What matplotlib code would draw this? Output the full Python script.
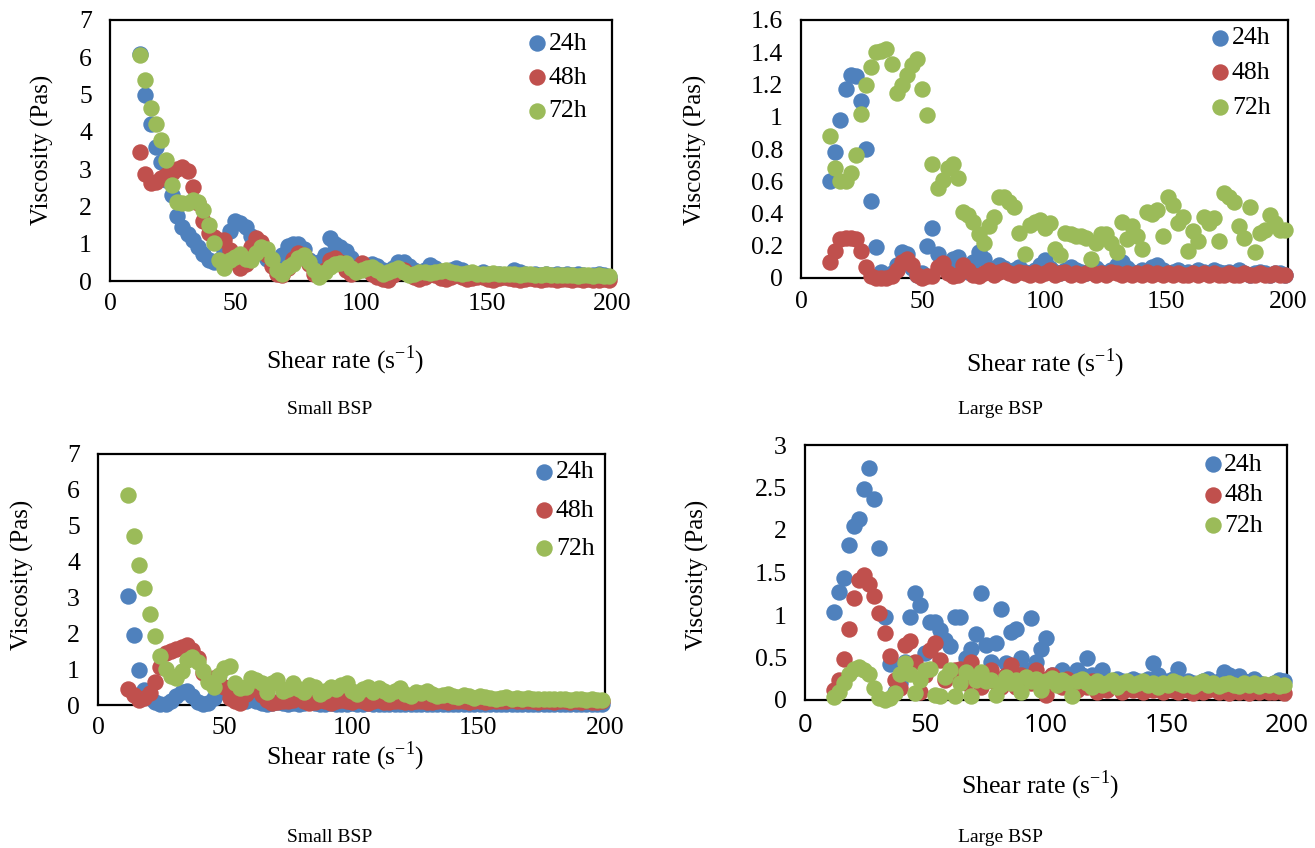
import matplotlib.pyplot as plt
from matplotlib.ticker import MultipleLocator, FormatStrFormatter

plt.rcParams['font.family'] = 'Liberation Serif'
plt.rcParams['mathtext.fontset'] = 'custom'
plt.rcParams['mathtext.rm'] = 'Liberation Serif'

# shear rate grid (s-1), shared by all samples
shear_rate = [12.0, 14.1, 16.2, 18.3, 20.4, 22.5, 24.6, 26.7, 28.8, 30.9,
              33.0, 35.1, 37.2, 39.3, 41.4, 43.5, 45.6, 47.7, 49.8, 51.9,
              54.0, 56.1, 58.2, 60.3, 62.4, 64.5, 66.6, 68.7, 70.8, 72.9,
              75.0, 77.1, 79.2, 81.3, 83.4, 85.5, 87.6, 89.7, 91.8, 93.9,
              96.0, 98.1, 100.2, 102.3, 104.4, 106.5, 108.6, 110.7, 112.8, 114.9,
              117.0, 119.1, 121.2, 123.3, 125.4, 127.5, 129.6, 131.7, 133.8, 135.9,
              138.0, 140.1, 142.2, 144.3, 146.4, 148.5, 150.6, 152.7, 154.8, 156.9,
              159.0, 161.1, 163.2, 165.3, 167.4, 169.5, 171.6, 173.7, 175.8, 177.9,
              180.0, 182.1, 184.2, 186.3, 188.4, 190.5, 192.6, 194.7, 196.8, 198.9]

labels = ['24h', '48h', '72h']
colors = ['#4F81BD', '#C0504D', '#9BBB59']

# ---- top left: Small BSP ----
small_a_24h = [6.1, 5.0, 4.2, 3.6, 3.2, 2.7, 2.3, 1.75, 1.45, 1.25,
               1.1, 0.92, 0.72, 0.57, 0.5, 0.55, 0.8, 1.35, 1.6, 1.55,
               1.45, 1.2, 0.95, 0.75, 0.6, 0.5, 0.55, 0.7, 0.95, 1.0,
               1.0, 0.85, 0.55, 0.45, 0.5, 0.7, 1.15, 1.0, 0.9, 0.8,
               0.62, 0.45, 0.35, 0.3, 0.45, 0.4, 0.3, 0.25, 0.35, 0.5,
               0.5, 0.4, 0.3, 0.25, 0.3, 0.43, 0.35, 0.25, 0.2, 0.3,
               0.35, 0.3, 0.2, 0.15, 0.2, 0.25, 0.2, 0.15, 0.2, 0.15,
               0.15, 0.3, 0.25, 0.2, 0.15, 0.2, 0.15, 0.2, 0.15, 0.2,
               0.15, 0.2, 0.15, 0.2, 0.15, 0.1, 0.15, 0.2, 0.15, 0.1]
small_a_48h = [3.47, 2.87, 2.64, 2.65, 2.75, 2.85, 2.9, 3.0, 3.05, 2.96,
               2.53, 2.1, 1.61, 1.3, 1.19, 1.1, 1.1, 0.83, 0.5, 0.34,
               0.45, 0.92, 1.14, 1.05, 0.7, 0.4, 0.2, 0.16, 0.35, 0.6,
               0.75, 0.7, 0.45, 0.2, 0.15, 0.3, 0.55, 0.62, 0.5, 0.3,
               0.2, 0.35, 0.47, 0.35, 0.2, 0.1, 0.05, 0.02, 0.15, 0.25,
               0.3, 0.2, 0.1, 0.05, 0.1, 0.2, 0.15, 0.08, 0.05, 0.1,
               0.15, 0.1, 0.05, 0.08, 0.12, 0.1, 0.05, 0.04, 0.08, 0.1,
               0.08, 0.05, 0.04, 0.06, 0.08, 0.05, 0.04, 0.06, 0.05, 0.04,
               0.05, 0.06, 0.04, 0.05, 0.04, 0.05, 0.04, 0.03, 0.05, 0.04]
small_a_72h = [6.06, 5.39, 4.65, 4.21, 3.78, 3.24, 2.57, 2.13, 2.08, 2.1,
               2.17, 2.13, 1.9, 1.5, 1.01, 0.56, 0.34, 0.56, 0.65, 0.72,
               0.6, 0.56, 0.75, 0.9, 0.85, 0.6, 0.3, 0.2, 0.38, 0.45,
               0.62, 0.7, 0.5, 0.3, 0.12, 0.25, 0.38, 0.45, 0.47, 0.47,
               0.35, 0.25, 0.3, 0.34, 0.38, 0.3, 0.2, 0.25, 0.3, 0.34,
               0.25, 0.16, 0.2, 0.25, 0.25, 0.22, 0.25, 0.28, 0.29, 0.25,
               0.22, 0.2, 0.22, 0.24, 0.2, 0.18, 0.2, 0.22, 0.18, 0.2,
               0.18, 0.2, 0.16, 0.18, 0.2, 0.17, 0.15, 0.18, 0.16, 0.15,
               0.17, 0.15, 0.16, 0.14, 0.16, 0.15, 0.13, 0.15, 0.14, 0.13]

# ---- top right: Large BSP ----
large_a_24h = [0.6, 0.78, 0.98, 1.17, 1.26, 1.25, 1.1, 0.8, 0.48, 0.19,
               0.04, 0.02, 0.03, 0.08, 0.16, 0.15, 0.06, 0.02, 0.03, 0.2,
               0.31, 0.15, 0.08, 0.05, 0.12, 0.13, 0.06, 0.04, 0.1, 0.16,
               0.12, 0.06, 0.04, 0.08, 0.06, 0.04, 0.05, 0.07, 0.04, 0.03,
               0.05, 0.08, 0.11, 0.06, 0.04, 0.03, 0.05, 0.07, 0.05, 0.04,
               0.03, 0.05, 0.06, 0.04, 0.03, 0.05, 0.08, 0.1, 0.06, 0.04,
               0.03, 0.05, 0.04, 0.07, 0.08, 0.05, 0.03, 0.04, 0.05, 0.03,
               0.04, 0.03, 0.05, 0.04, 0.03, 0.05, 0.04, 0.03, 0.04, 0.03,
               0.05, 0.03, 0.02, 0.03, 0.04, 0.03, 0.02, 0.03, 0.03, 0.02]
large_a_48h = [0.1, 0.17, 0.24, 0.25, 0.25, 0.24, 0.17, 0.07, 0.01, 0.0,
               0.0, 0.0, 0.01, 0.05, 0.1, 0.12, 0.08, 0.02, 0.0, 0.01,
               0.01, 0.07, 0.09, 0.03, 0.01, 0.02, 0.08, 0.05, 0.02, 0.01,
               0.03, 0.05, 0.02, 0.04, 0.05, 0.03, 0.02, 0.04, 0.03, 0.02,
               0.04, 0.02, 0.03, 0.05, 0.02, 0.03, 0.04, 0.02, 0.03, 0.02,
               0.03, 0.04, 0.02, 0.03, 0.02, 0.04, 0.03, 0.02, 0.03, 0.02,
               0.03, 0.02, 0.04, 0.02, 0.03, 0.02, 0.03, 0.02, 0.03, 0.02,
               0.02, 0.03, 0.02, 0.03, 0.02, 0.03, 0.02, 0.02, 0.03, 0.02,
               0.02, 0.03, 0.02, 0.02, 0.03, 0.02, 0.02, 0.03, 0.02, 0.02]
large_a_72h = [0.88, 0.68, 0.6, 0.6, 0.65, 0.76, 1.02, 1.2, 1.31, 1.4,
               1.41, 1.42, 1.33, 1.15, 1.2, 1.26, 1.32, 1.36, 1.17, 1.01,
               0.71, 0.56, 0.61, 0.68, 0.71, 0.62, 0.41, 0.39, 0.35, 0.27,
               0.22, 0.32, 0.38, 0.5, 0.5, 0.47, 0.44, 0.28, 0.15, 0.33,
               0.35, 0.36, 0.31, 0.34, 0.18, 0.14, 0.28, 0.27, 0.26, 0.26,
               0.25, 0.12, 0.22, 0.27, 0.27, 0.22, 0.16, 0.35, 0.24, 0.32,
               0.26, 0.18, 0.41, 0.4, 0.42, 0.26, 0.5, 0.45, 0.34, 0.38,
               0.17, 0.29, 0.23, 0.38, 0.34, 0.37, 0.23, 0.53, 0.5, 0.47,
               0.32, 0.25, 0.44, 0.16, 0.28, 0.3, 0.39, 0.34, 0.3, 0.3]

# ---- bottom left: Small BSP ----
small_b_24h = [3.05, 1.95, 0.97, 0.42, 0.2, 0.08, 0.03, 0.02, 0.1, 0.25,
               0.35, 0.4, 0.25, 0.08, 0.02, 0.05, 0.2, 0.35, 0.5, 0.45,
               0.2, 0.15, 0.12, 0.18, 0.1, 0.05, 0.03, 0.05, 0.08, 0.05,
               0.03, 0.05, 0.04, 0.06, 0.08, 0.05, 0.03, 0.04, 0.05, 0.03,
               0.04, 0.03, 0.05, 0.04, 0.03, 0.05, 0.04, 0.03, 0.02, 0.04,
               0.03, 0.04, 0.03, 0.02, 0.03, 0.04, 0.03, 0.02, 0.03, 0.02,
               0.03, 0.02, 0.04, 0.03, 0.02, 0.03, 0.04, 0.02, 0.03, 0.02,
               0.03, 0.04, 0.02, 0.03, 0.02, 0.03, 0.02, 0.04, 0.03, 0.02,
               0.03, 0.02, 0.03, 0.04, 0.02, 0.03, 0.02, 0.03, 0.02, 0.03]
small_b_48h = [0.46, 0.28, 0.14, 0.19, 0.33, 0.65, 1.07, 1.44, 1.5, 1.55,
               1.62, 1.67, 1.53, 1.3, 0.88, 0.74, 0.75, 0.6, 0.51, 0.2,
               0.1, 0.05, 0.3, 0.51, 0.45, 0.28, 0.15, 0.05, 0.08, 0.12,
               0.1, 0.14, 0.2, 0.1, 0.05, 0.08, 0.15, 0.12, 0.06, 0.1,
               0.14, 0.1, 0.08, 0.15, 0.12, 0.06, 0.1, 0.13, 0.09, 0.07,
               0.1, 0.12, 0.09, 0.08, 0.1, 0.12, 0.09, 0.07, 0.1, 0.11,
               0.09, 0.1, 0.12, 0.1, 0.08, 0.1, 0.11, 0.09, 0.1, 0.12,
               0.1, 0.12, 0.13, 0.1, 0.11, 0.12, 0.1, 0.09, 0.11, 0.1,
               0.09, 0.1, 0.11, 0.09, 0.1, 0.08, 0.1, 0.09, 0.08, 0.1]
small_b_72h = [5.85, 4.7, 3.9, 3.25, 2.55, 1.93, 1.37, 1.0, 0.8, 0.75,
               0.95, 1.25, 1.35, 1.2, 0.95, 0.65, 0.5, 0.84, 1.02, 1.1,
               0.6, 0.47, 0.5, 0.75, 0.7, 0.62, 0.35, 0.6, 0.7, 0.4,
               0.45, 0.6, 0.45, 0.35, 0.56, 0.5, 0.3, 0.4, 0.5, 0.45,
               0.55, 0.6, 0.4, 0.3, 0.45, 0.5, 0.35, 0.48, 0.4, 0.3,
               0.4, 0.47, 0.3, 0.25, 0.35, 0.33, 0.4, 0.3, 0.25, 0.28,
               0.3, 0.25, 0.22, 0.28, 0.25, 0.2, 0.24, 0.22, 0.2, 0.18,
               0.2, 0.22, 0.18, 0.2, 0.17, 0.2, 0.18, 0.16, 0.18, 0.17,
               0.16, 0.18, 0.17, 0.15, 0.16, 0.17, 0.15, 0.16, 0.15, 0.14]

# ---- bottom right: Large BSP ----
large_b_24h = [1.03, 1.27, 1.43, 1.82, 2.05, 2.13, 2.48, 2.73, 2.36, 1.79,
               0.98, 0.42, 0.1, 0.2, 0.45, 0.98, 1.26, 1.12, 0.55, 0.92,
               0.92, 0.82, 0.71, 0.63, 0.98, 0.98, 0.49, 0.6, 0.78, 1.26,
               0.65, 0.45, 0.67, 1.07, 0.44, 0.8, 0.84, 0.5, 0.35, 0.97,
               0.45, 0.6, 0.73, 0.3, 0.25, 0.35, 0.3, 0.28, 0.35, 0.3,
               0.49, 0.3, 0.25, 0.35, 0.22, 0.2, 0.25, 0.22, 0.2, 0.25,
               0.22, 0.2, 0.25, 0.43, 0.3, 0.2, 0.22, 0.25, 0.37, 0.2,
               0.22, 0.2, 0.18, 0.22, 0.25, 0.2, 0.22, 0.33, 0.3, 0.25,
               0.28, 0.22, 0.2, 0.25, 0.2, 0.18, 0.15, 0.2, 0.24, 0.22]
large_b_48h = [0.12, 0.24, 0.48, 0.84, 1.2, 1.41, 1.47, 1.37, 1.22, 1.02,
               0.79, 0.52, 0.24, 0.14, 0.65, 0.69, 0.45, 0.1, 0.3, 0.59,
               0.67, 0.47, 0.24, 0.3, 0.35, 0.37, 0.2, 0.45, 0.3, 0.15,
               0.25, 0.35, 0.2, 0.15, 0.3, 0.41, 0.15, 0.3, 0.25, 0.2,
               0.35, 0.25, 0.06, 0.3, 0.2, 0.15, 0.25, 0.18, 0.12, 0.2,
               0.15, 0.22, 0.1, 0.18, 0.12, 0.2, 0.15, 0.1, 0.18, 0.12,
               0.15, 0.1, 0.18, 0.12, 0.15, 0.1, 0.16, 0.12, 0.1, 0.15,
               0.12, 0.08, 0.14, 0.1, 0.12, 0.15, 0.1, 0.12, 0.08, 0.12,
               0.1, 0.14, 0.08, 0.12, 0.1, 0.14, 0.09, 0.1, 0.12, 0.08]
large_b_72h = [0.04, 0.1, 0.2, 0.31, 0.37, 0.39, 0.35, 0.31, 0.14, 0.02,
               0.0, 0.02, 0.08, 0.31, 0.44, 0.31, 0.08, 0.24, 0.35, 0.36,
               0.06, 0.05, 0.27, 0.35, 0.05, 0.2, 0.33, 0.05, 0.24, 0.33,
               0.22, 0.24, 0.06, 0.18, 0.27, 0.2, 0.24, 0.1, 0.27, 0.22,
               0.25, 0.12, 0.22, 0.26, 0.18, 0.24, 0.2, 0.05, 0.22, 0.25,
               0.2, 0.15, 0.22, 0.18, 0.2, 0.24, 0.15, 0.2, 0.22, 0.18,
               0.2, 0.22, 0.18, 0.2, 0.15, 0.2, 0.18, 0.22, 0.2, 0.18,
               0.2, 0.17, 0.2, 0.22, 0.18, 0.2, 0.17, 0.19, 0.2, 0.18,
               0.17, 0.2, 0.18, 0.2, 0.17, 0.19, 0.18, 0.2, 0.16, 0.18]

W, H = 1315, 848
fig = plt.figure(figsize=(W / 100, H / 100), dpi=100)


def px_rect(left, top, right, bottom):
    return [left / W, 1 - bottom / H, (right - left) / W, (bottom - top) / H]


def draw_panel(box, series, ymax, ystep, leg_x, leg_y, leg_space, xtick_font=None):
    ax = fig.add_axes(px_rect(*box))
    for vals, lab, col in zip(series, labels, colors):
        ax.scatter(shear_rate, vals, s=140, color=col, label=lab,
                   linewidths=0, zorder=3, clip_on=False)
    ax.set_xlim(0, 200)
    ax.set_ylim(0, ymax)
    ax.xaxis.set_major_locator(MultipleLocator(50))
    ax.yaxis.set_major_locator(MultipleLocator(ystep))
    ax.yaxis.set_major_formatter(FormatStrFormatter('%g'))
    ax.tick_params(length=0, labelsize=18.5)
    ax.tick_params(axis='y', pad=13)
    ax.tick_params(axis='x', pad=9)
    if xtick_font:
        for t in ax.get_xticklabels():
            t.set_fontfamily(xtick_font)
    for sp in ax.spines.values():
        sp.set_linewidth(1.6)
        sp.set_color('black')
    ax.legend(loc='upper left', bbox_to_anchor=(leg_x, leg_y), frameon=False,
              fontsize=18.5, handlelength=0.6, handletextpad=0.15,
              labelspacing=leg_space, borderpad=0, borderaxespad=0)
    return ax


draw_panel((110, 20, 612, 281), [small_a_24h, small_a_48h, small_a_72h], 7, 1, 0.835, 0.955, 0.42)
draw_panel((801, 20, 1288, 278), [large_a_24h, large_a_48h, large_a_72h], 1.6, 0.2, 0.845, 0.975, 0.45)
draw_panel((98, 454, 605, 705), [small_b_24h, small_b_48h, small_b_72h], 7, 1, 0.865, 0.975, 0.6)
draw_panel((805, 445, 1287, 700), [large_b_24h, large_b_48h, large_b_72h], 3, 0.5, 0.83, 0.97, 0.3,
           xtick_font='Open Sans')

ylab = 'Viscosity (Pas)'
xlab = r'Shear rate (s$^{\mathrm{-1}}$)'
for x, y in [(42, 150), (695, 150), (22, 575), (697, 575)]:
    fig.text(x / W, 1 - y / H, ylab, rotation=90, ha='center', va='center', fontsize=18)
for x, y in [(345, 360), (1045, 363), (345, 756), (1040, 785)]:
    fig.text(x / W, 1 - y / H, xlab, ha='center', va='center', fontsize=18.5)
for x, y, t in [(330, 410, 'Small BSP'), (1000, 410, 'Large BSP'),
                (330, 837, 'Small BSP'), (1000, 837, 'Large BSP')]:
    fig.text(x / W, 1 - y / H, t, ha='center', va='center', fontsize=14)

fig.savefig('out.png', dpi=100)
